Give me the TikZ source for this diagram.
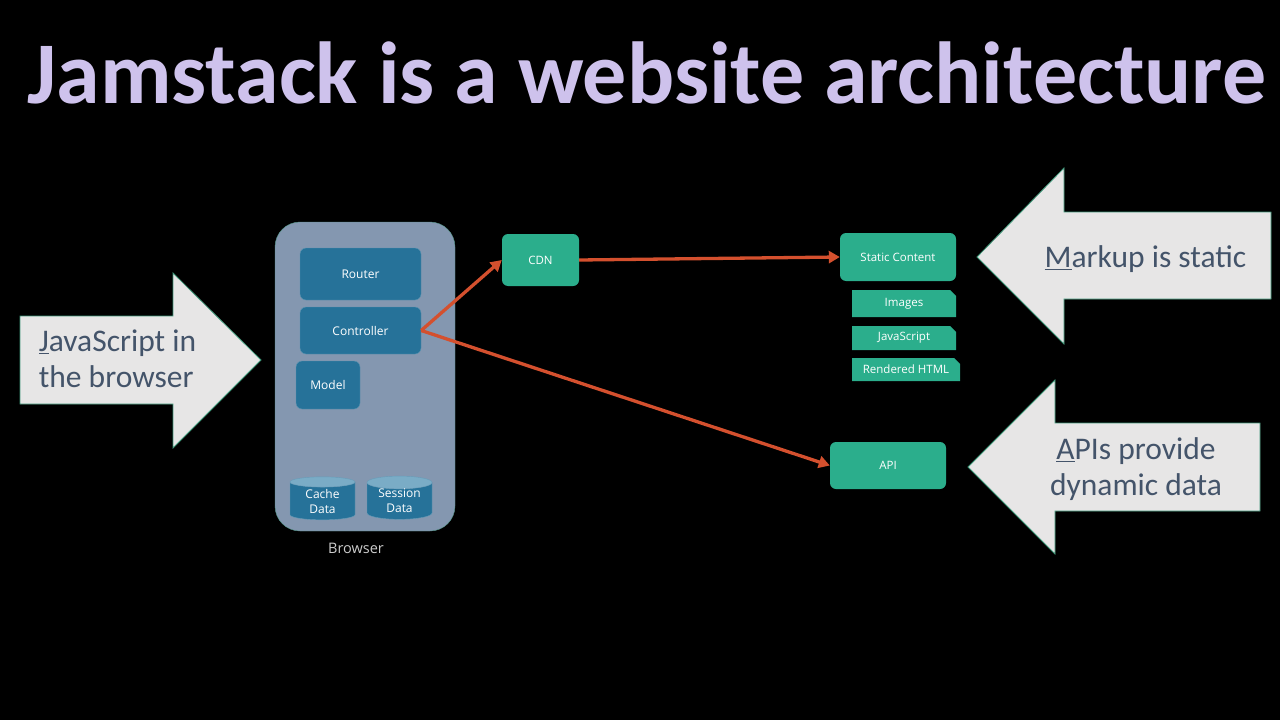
\documentclass[tikz,border=0pt]{standalone}
\usepackage{fontspec}
\setmainfont{Carlito}
\newfontfamily\uifont{Open Sans}
\usetikzlibrary{shapes.geometric, shapes.misc, arrows.meta, positioning}
\definecolor{browsercolor}{RGB}{132,151,176}
\definecolor{modulecolor}{RGB}{38,114,153}
\definecolor{storecolor}{RGB}{122,172,198}
\definecolor{edgecolor}{RGB}{43,174,140}
\definecolor{linkcolor}{RGB}{212,80,46}
\definecolor{calloutcolor}{RGB}{231,230,230}
\definecolor{calloutborder}{RGB}{62,150,120}
\definecolor{callouttext}{RGB}{68,84,106}
\definecolor{titlecolor}{RGB}{206,194,236}

\begin{document}
\begin{tikzpicture}[
    x=1pt, y=-1pt,
    module/.style={draw=modulecolor!75!white, fill=modulecolor, text=white, font=\uifont\fontsize{12}{14}\selectfont, rounded corners=6pt, inner sep=0pt},
    store/.style={draw=modulecolor!70!white, cylinder, shape border rotate=90, aspect=0.3, cylinder uses custom fill, cylinder body fill=modulecolor, cylinder end fill=storecolor, text=white, align=center, font=\uifont\fontsize{12}{15}\selectfont, inner sep=0pt, minimum width=65pt, minimum height=43pt},
    edgebox/.style={fill=edgecolor, text=white, font=\uifont\fontsize{11.5}{14}\selectfont, rounded corners=6pt, inner sep=0pt},
    asset/.style={chamfered rectangle, chamfered rectangle corners=north east, chamfered rectangle xsep=3pt, chamfered rectangle ysep=3pt, fill=edgecolor, text=white, font=\uifont\fontsize{11.5}{14}\selectfont, inner sep=0pt},
    callout/.style={draw=calloutborder, fill=calloutcolor, line width=0.8pt},
    callouttext/.style={text=callouttext, font=\fontsize{31.5}{36}\selectfont, inner sep=0pt},
    connector/.style={-{Triangle[length=11pt,width=12pt]}, line width=3.3pt, draw=linkcolor}
]
    % Background
    \fill[black] (0,0) rectangle (1280,720);
    \useasboundingbox (0,0) rectangle (1280,720);

    % Title
    \node[text=titlecolor, font=\bfseries\fontsize{88}{100}\selectfont, anchor=base, inner sep=0pt] (title) at (647,103) {Jamstack is a website architecture};

    % Browser
    \node[draw=calloutborder!70!browsercolor, fill=browsercolor, rounded corners=25pt, minimum width=180pt, minimum height=309pt] (browser) at (365,376.5) {};
    \node[text=white!80!black, font=\uifont\fontsize{14.5}{17}\selectfont, anchor=base] (browserlabel) at (356,553) {Browser};

    % Modules
    \node[module, minimum width=121pt, minimum height=52pt] (router) at (360.5,274) {Router};
    \node[module, minimum width=121pt, minimum height=47pt] (controller) at (360.5,330.5) {Controller};
    \node[module, minimum width=64pt, minimum height=48pt] (model) at (328,385) {Model};

    % Stores
    \node[store] (cache) at (322.5,501) {Cache\\Data};
    \node[store] (session) at (399.5,501) {Session\\Data};

    % Edge
    \node[edgebox, minimum width=77pt, minimum height=52pt] (cdn) at (540.5,260) {CDN};
    \node[edgebox, minimum width=116pt, minimum height=48pt] (static) at (898,257) {Static Content};
    \node[edgebox, minimum width=116pt, minimum height=47pt] (api) at (888,465.5) {API};

    % Assets
    \node[asset, minimum width=104pt, minimum height=27pt] (images) at (904,303.5) {Images};
    \node[asset, minimum width=104pt, minimum height=24pt] (script) at (904,338) {JavaScript};
    \node[asset, minimum width=108pt, minimum height=23pt] (html) at (906,369.5) {Rendered HTML};

    % Connectors
    \draw[connector] (controller.east) -- (cdn.west);
    \draw[connector] (cdn.east) -- (static.west);
    \draw[connector] (controller.east) -- (api.west);

    % Callouts
    \draw[callout] (20,316) -- (173,316) -- (173,273) -- (261,360) -- (173,448) -- (173,404) -- (20,404) -- cycle;
    \draw[callout] (977,257) -- (1064,168) -- (1064,212) -- (1271,212) -- (1271,299) -- (1064,299) -- (1064,344) -- cycle;
    \draw[callout] (968,467) -- (1055,380) -- (1055,423) -- (1260,423) -- (1260,511) -- (1055,511) -- (1055,554) -- cycle;

    % Callout labels
    \node[callouttext, align=left] (browsernote) at (117.5,359) {\underline{J}avaScript in\\the browser};
    \node[callouttext] (markupnote) at (1145.5,259) {\underline{M}arkup is static};
    \node[callouttext, align=center] (apinote) at (1136,469) {\underline{A}PIs provide\\dynamic data};
\end{tikzpicture}
\end{document}
